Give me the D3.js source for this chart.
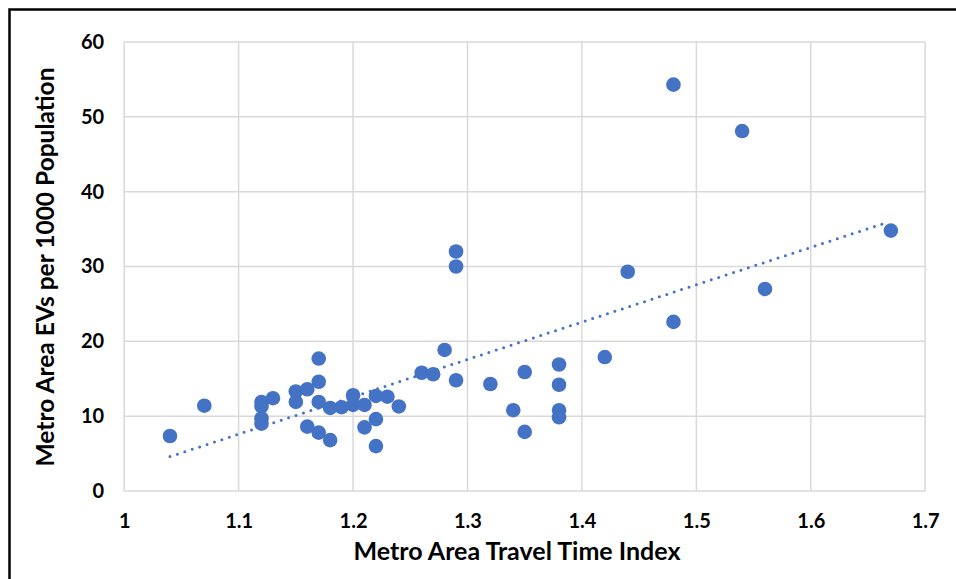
<!DOCTYPE html>
<html><head><meta charset="utf-8">
<script src="https://cdn.jsdelivr.net/npm/d3@7"></script>
<style>html,body{margin:0;padding:0;background:#fff;}svg{display:block;}</style>
</head><body>
<svg id="c" width="956" height="579"></svg>
<script>
const travelIndex = [1.04,1.07,1.12,1.12,1.12,1.12,1.13,1.15,1.15,1.16,1.16,1.17,1.17,1.17,1.17,1.18,1.18,1.19,1.20,1.20,1.21,1.21,1.22,1.22,1.22,1.23,1.24,1.26,1.27,1.28,1.29,1.29,1.29,1.32,1.34,1.35,1.35,1.38,1.38,1.38,1.38,1.42,1.44,1.48,1.48,1.54,1.56,1.67];
const evsPer1000 = [7.35,11.4,11.9,11.3,9.7,9.0,12.4,13.3,11.9,13.6,8.6,17.7,14.6,11.9,7.8,11.1,6.8,11.2,12.8,11.5,11.5,8.5,12.7,9.6,6.0,12.6,11.3,15.8,15.6,18.85,32.0,30.0,14.8,14.3,10.8,15.9,7.9,16.9,14.2,10.8,9.85,17.9,29.3,54.3,22.6,48.1,27.0,34.8];
const trendX = [1.04, 1.665];
const trendY = [4.6, 35.8];
const xTicks = [1,1.1,1.2,1.3,1.4,1.5,1.6,1.7];
const yTicks = [0,10,20,30,40,50,60];
const xTitle = "Metro Area Travel Time Index";
const yTitle = "Metro Area EVs per 1000 Population";

const svg = d3.select("#c");
const font = "Lato, 'Open Sans', sans-serif";
svg.append("rect").attr("x",9.5).attr("y",9.5).attr("width",980).attr("height",600)
  .attr("fill","none").attr("stroke","#000").attr("stroke-width",2.5);

const x = d3.scaleLinear().domain([1,1.7]).range([124.2,925.2]);
const y = d3.scaleLinear().domain([0,60]).range([491,42]);

const g = svg.append("g");
g.selectAll("line.vx").data(xTicks).join("line")
  .attr("x1",d=>x(d)).attr("x2",d=>x(d)).attr("y1",y(0)).attr("y2",y(60))
  .attr("stroke","#d9d9d9").attr("stroke-width",1.5);
g.selectAll("line.hy").data(yTicks).join("line")
  .attr("y1",d=>y(d)).attr("y2",d=>y(d)).attr("x1",x(1)).attr("x2",x(1.7))
  .attr("stroke","#d9d9d9").attr("stroke-width",1.5);

const xAxis = svg.append("g").attr("transform",`translate(0,${y(0)})`)
  .call(d3.axisBottom(x).tickValues(xTicks).tickFormat(d=>String(d)).tickSize(0).tickPadding(23));
const yAxis = svg.append("g").attr("transform",`translate(${x(1)},0)`)
  .call(d3.axisLeft(y).tickValues(yTicks).tickSize(0).tickPadding(20));
[xAxis,yAxis].forEach(a=>{
  a.select(".domain").remove();
  a.selectAll("text").attr("font-family",font).attr("font-weight","bold").attr("font-size",20).attr("fill","#000");
});

svg.append("line").attr("x1",x(trendX[0])).attr("y1",y(trendY[0])).attr("x2",x(trendX[1])).attr("y2",y(trendY[1]))
  .attr("stroke","#4472C4").attr("stroke-width",3).attr("stroke-linecap","round").attr("stroke-dasharray","0 7.8");

svg.append("g").selectAll("circle").data(travelIndex.map((v,i)=>[v,evsPer1000[i]])).join("circle")
  .attr("cx",d=>x(d[0])).attr("cy",d=>y(d[1])).attr("r",7.3).attr("fill","#4472C4");

svg.append("text").attr("x",517).attr("y",560).attr("text-anchor","middle")
  .attr("font-family",font).attr("font-weight","bold").attr("font-size",25).attr("fill","#000").text(xTitle);
svg.append("text").attr("transform",`translate(54,267) rotate(-90)`).attr("text-anchor","middle")
  .attr("font-family",font).attr("font-weight","bold").attr("font-size",24.5).attr("fill","#000").text(yTitle);
</script>
</body></html>
